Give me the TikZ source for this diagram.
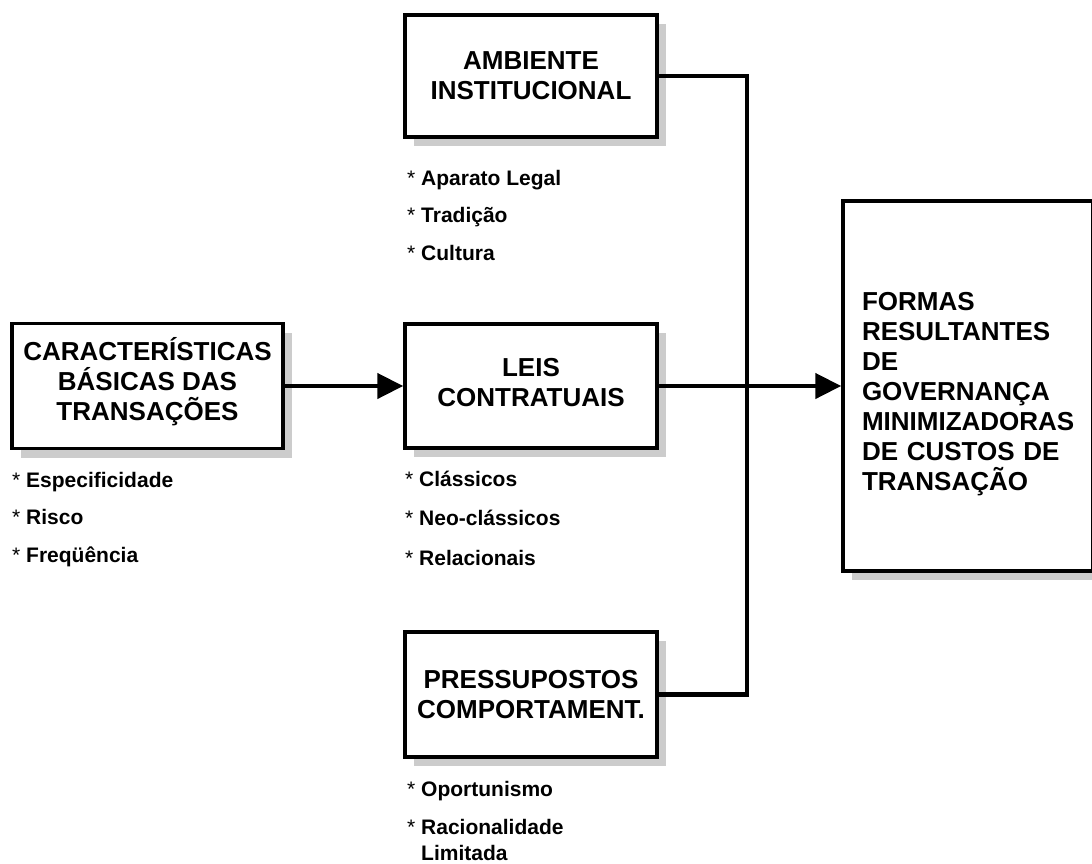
\documentclass[tikz,border=0pt]{standalone}
\usepackage{fontspec}
\setmainfont{Liberation Sans}
\usetikzlibrary{arrows.meta,shadows}

\newcommand{\itm}[1]{\makebox[14pt][l]{\mdseries*}#1}

\tikzset{
  box/.style={draw,line width=3.5pt,fill=white,align=center,inner sep=0pt,
    font=\bfseries\fontsize{26}{30}\selectfont,
    drop shadow={opacity=1,fill=black!20,shadow xshift=9pt,shadow yshift=-9pt}},
  lst/.style={anchor=north west,inner sep=0pt,align=left,
    font=\bfseries\fontsize{21}{26}\selectfont},
  link/.style={line width=4.5pt},
  flow/.style={line width=4.5pt,-{Triangle[length=26pt,width=25pt]}}
}

\begin{document}
\begin{tikzpicture}[x=1pt,y=-1pt]
\useasboundingbox (0,0) rectangle (1092,863);
\node[box,minimum width=271pt,minimum height=125pt] (car) at (147.5,386) {CARACTERÍSTICAS\\BÁSICAS DAS\\TRANSAÇÕES\rule[-14pt]{0pt}{0pt}};
\node[box,minimum width=252pt,minimum height=122pt] (amb) at (531,76) {AMBIENTE\\INSTITUCIONAL};
\node[box,minimum width=252pt,minimum height=124pt] (leis) at (531,386) {LEIS\\CONTRATUAIS\rule[-8pt]{0pt}{0pt}};
\node[box,minimum width=252pt,minimum height=125pt] (pres) at (531,694.5) {PRESSUPOSTOS\\COMPORTAMENT.};
\node[box,align=left,text width=212pt,inner xsep=19pt,minimum height=370pt] (formas) at (968,386) {\rule{0pt}{35pt}FORMAS\\RESULTANTES\\DE\\GOVERNANÇA\\MINIMIZADORAS\\DE CUSTOS DE\\TRANSAÇÃO};
\node[lst] (carlst) at (12,472) {\itm{Especificidade}\\[11.5pt]\itm{Risco}\\[11.5pt]\itm{Freqüência}};
\node[lst] (amblst) at (407,170) {\itm{Aparato Legal}\\[11.5pt]\itm{Tradição}\\[11.5pt]\itm{Cultura}};
\node[lst] (leislst) at (405,470.5) {\itm{Clássicos}\\[13.5pt]\itm{Neo-clássicos}\\[13.5pt]\itm{Relacionais}};
\node[lst] (preslst) at (407,781.5) {\itm{Oportunismo}\\[12pt]\itm{Racionalidade}\\\hspace*{14pt}Limitada};
\coordinate (bus) at (747,386);
\draw[flow] (car.east) -- (leis.west);
\draw[flow] (leis.east) -- (formas.west);
\draw[link] (amb.east) -| (bus) |- (pres.east);
\end{tikzpicture}
\end{document}
